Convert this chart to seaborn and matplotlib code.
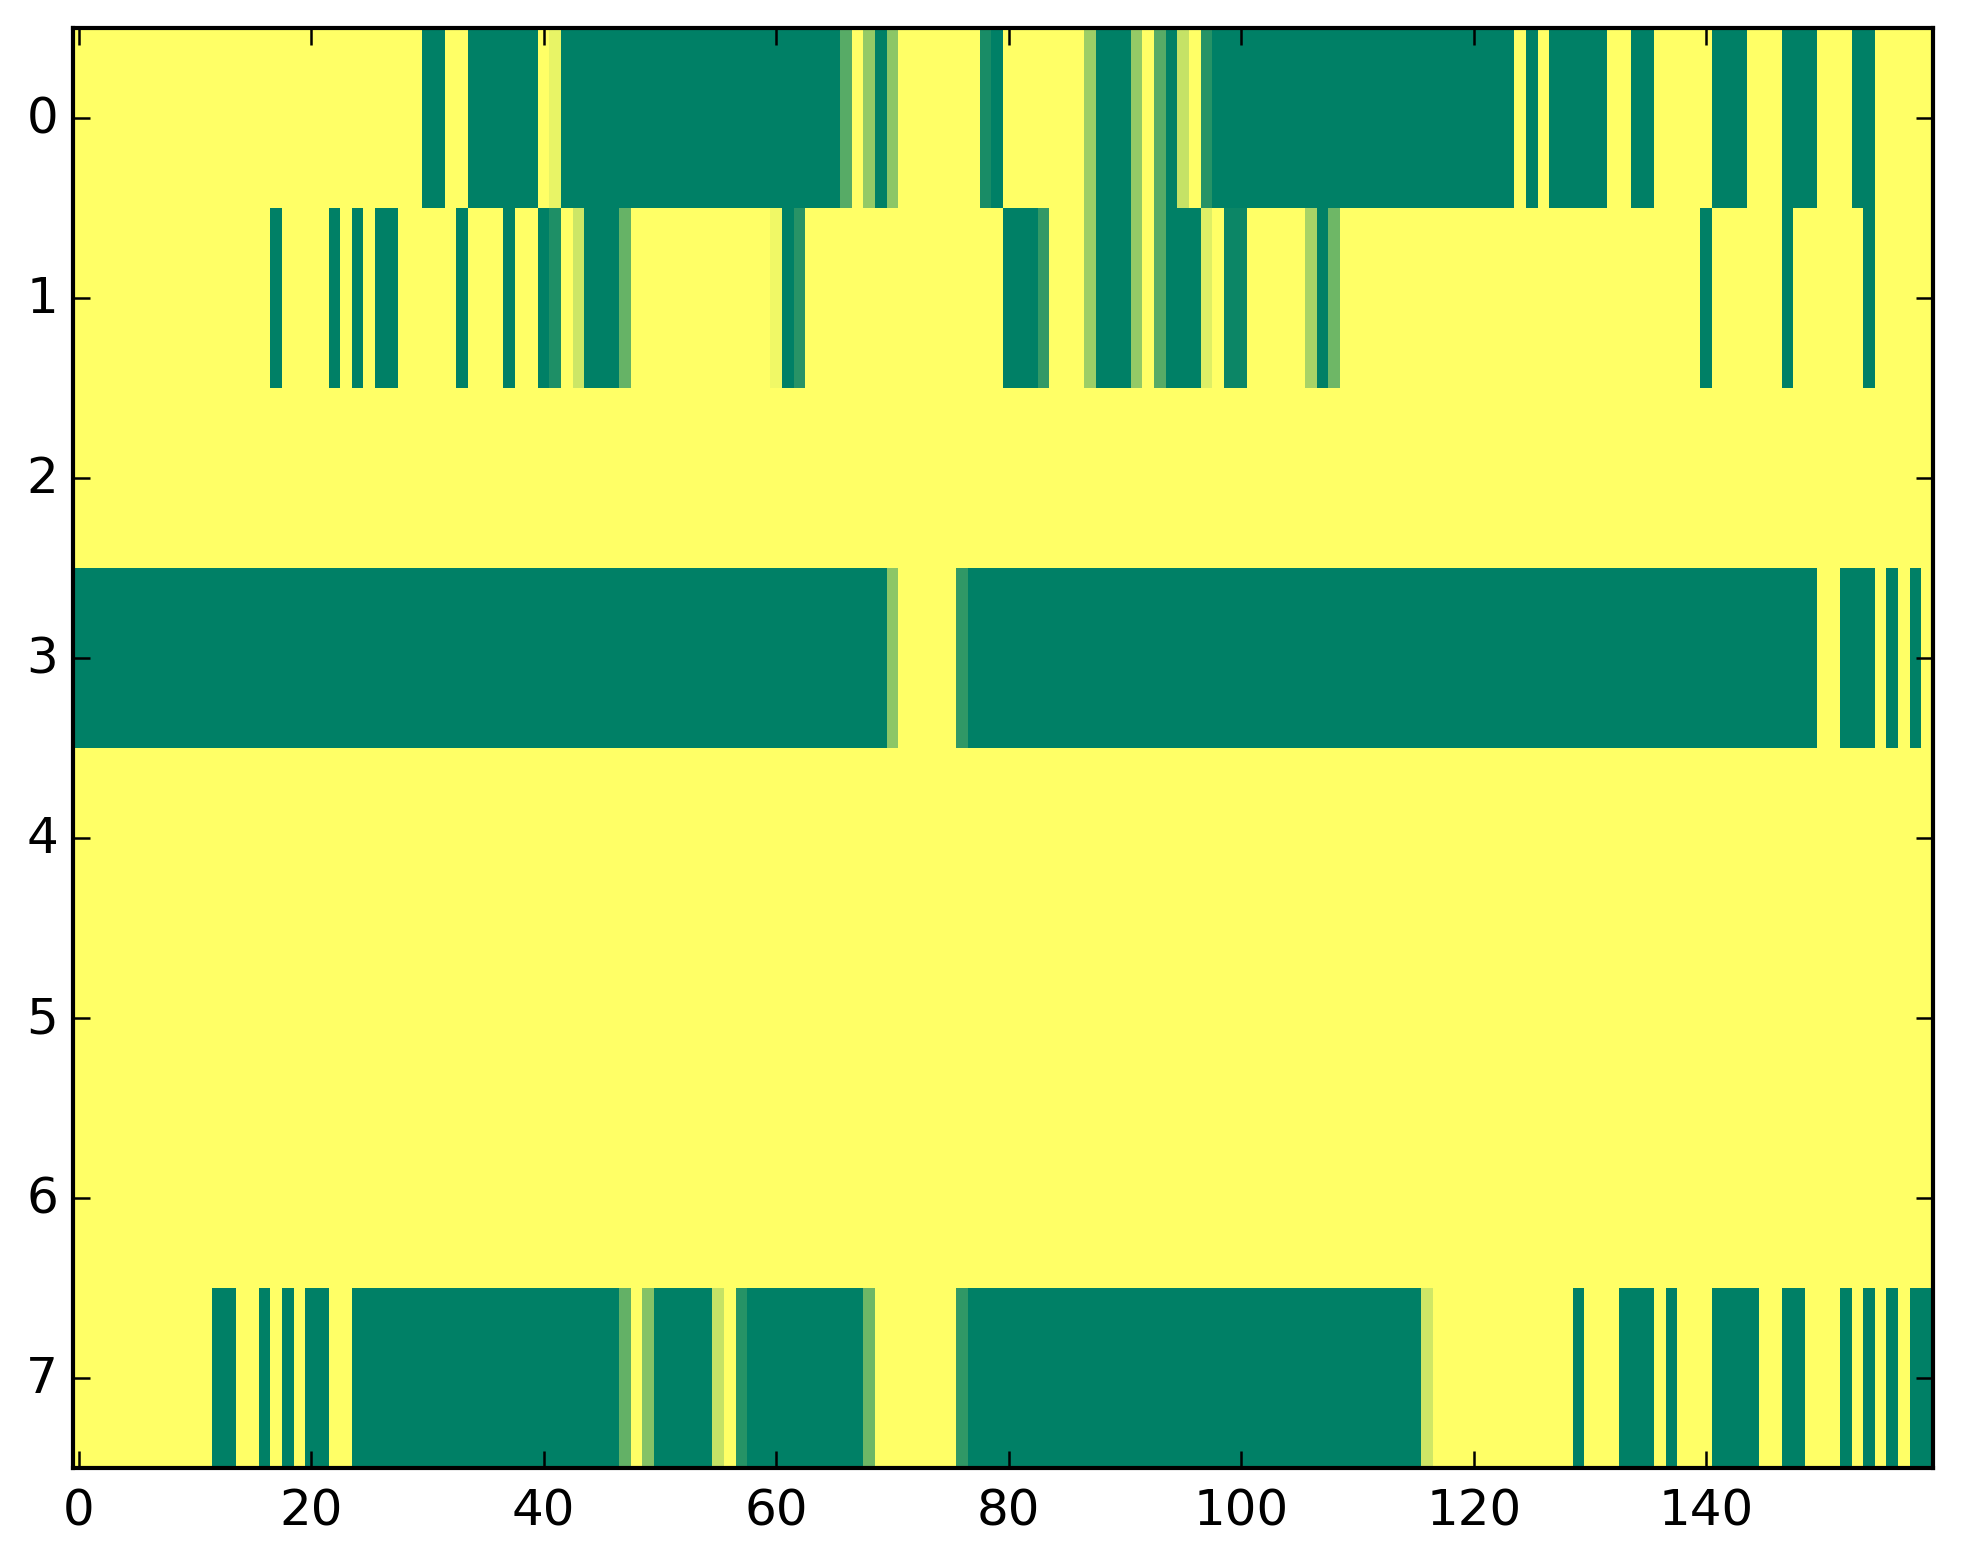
import numpy as np
import pandas as pd
import matplotlib
matplotlib.use("Agg")
import matplotlib.pyplot as plt
import seaborn as sns

# values per row, 160 columns each (1 = dark green, 0 = yellow)
row0 = [0, 0, 0, 0, 0, 0, 0, 0, 0, 0, 0, 0, 0, 0, 0, 0, 0, 0, 0, 0,
        0, 0, 0, 0, 0, 0, 0, 0, 0, 0, 1, 1, 0, 0, 1, 1, 1, 1, 1, 1,
        0, .09, 1, 1, 1, 1, 1, 1, 1, 1, 1, 1, 1, 1, 1, 1, 1, 1, 1, 1,
        1, 1, 1, 1, 1, 1, .66, 0, .42, 1, .45, 0, 0, 0, 0, 0, 0, 0, .9, 1,
        0, 0, 0, 0, 0, 0, 0, .39, 1, 1, 1, .42, 0, .66, 1, .23, 0, .85, 1, 1,
        1, 1, 1, 1, 1, 1, 1, 1, 1, 1, 1, 1, 1, 1, 1, 1, 1, 1, 1, 1,
        1, 1, 1, 1, 0, 1, 0, 1, 1, 1, 1, 1, 0, 0, 1, 1, 0, 0, 0, 0,
        0, 1, 1, 1, 0, 0, 0, 1, 1, 1, 0, 0, 0, 1, 1, 0, 0, 0, 0, 0]

row1 = [0, 0, 0, 0, 0, 0, 0, 0, 0, 0, 0, 0, 0, 0, 0, 0, 0, 1, 0, 0,
        0, 0, 1, 0, 1, 0, 1, 1, 0, 0, 0, 0, 0, 1, 0, 0, 0, 1, 0, 0,
        1, .88, 0, .2, 1, 1, 1, .6, 0, 0, 0, 0, 0, 0, 0, 0, 0, 0, 0, 0,
        .06, 1, .84, 0, 0, 0, 0, 0, 0, 0, 0, 0, 0, 0, 0, 0, 0, 0, 0, 0,
        1, 1, 1, .8, 0, 0, 0, .39, 1, 1, 1, .42, 0, .66, 1, 1, 1, .13, 0, .95,
        .95, 0, 0, 0, 0, 0, .34, 1, .57, 0, 0, 0, 0, 0, 0, 0, 0, 0, 0, 0,
        0, 0, 0, 0, 0, 0, 0, 0, 0, 0, 0, 0, 0, 0, 0, 0, 0, 0, 0, 0,
        1, 0, 0, 0, 0, 0, 0, 1, 0, 0, 0, 0, 0, 0, 1, 0, 0, 0, 0, 0]

row2 = [0, 0, 0, 0, 0, 0, 0, 0, 0, 0, 0, 0, 0, 0, 0, 0, 0, 0, 0, 0,
        0, 0, 0, 0, 0, 0, 0, 0, 0, 0, 0, 0, 0, 0, 0, 0, 0, 0, 0, 0,
        0, 0, 0, 0, 0, 0, 0, 0, 0, 0, 0, 0, 0, 0, 0, 0, 0, 0, 0, 0,
        0, 0, 0, 0, 0, 0, 0, 0, 0, 0, 0, 0, 0, 0, 0, 0, 0, 0, 0, 0,
        0, 0, 0, 0, 0, 0, 0, 0, 0, 0, 0, 0, 0, 0, 0, 0, 0, 0, 0, 0,
        0, 0, 0, 0, 0, 0, 0, 0, 0, 0, 0, 0, 0, 0, 0, 0, 0, 0, 0, 0,
        0, 0, 0, 0, 0, 0, 0, 0, 0, 0, 0, 0, 0, 0, 0, 0, 0, 0, 0, 0,
        0, 0, 0, 0, 0, 0, 0, 0, 0, 0, 0, 0, 0, 0, 0, 0, 0, 0, 0, 0]

row3 = [1, 1, 1, 1, 1, 1, 1, 1, 1, 1, 1, 1, 1, 1, 1, 1, 1, 1, 1, 1,
        1, 1, 1, 1, 1, 1, 1, 1, 1, 1, 1, 1, 1, 1, 1, 1, 1, 1, 1, 1,
        1, 1, 1, 1, 1, 1, 1, 1, 1, 1, 1, 1, 1, 1, 1, 1, 1, 1, 1, 1,
        1, 1, 1, 1, 1, 1, 1, 1, 1, 1, .45, 0, 0, 0, 0, 0, .81, 1, 1, 1,
        1, 1, 1, 1, 1, 1, 1, 1, 1, 1, 1, 1, 1, 1, 1, 1, 1, 1, 1, 1,
        1, 1, 1, 1, 1, 1, 1, 1, 1, 1, 1, 1, 1, 1, 1, 1, 1, 1, 1, 1,
        1, 1, 1, 1, 1, 1, 1, 1, 1, 1, 1, 1, 1, 1, 1, 1, 1, 1, 1, 1,
        1, 1, 1, 1, 1, 1, 1, 1, 1, 1, 0, 0, 1, 1, 1, 0, 1, 0, 1, 0]

row4 = [0, 0, 0, 0, 0, 0, 0, 0, 0, 0, 0, 0, 0, 0, 0, 0, 0, 0, 0, 0,
        0, 0, 0, 0, 0, 0, 0, 0, 0, 0, 0, 0, 0, 0, 0, 0, 0, 0, 0, 0,
        0, 0, 0, 0, 0, 0, 0, 0, 0, 0, 0, 0, 0, 0, 0, 0, 0, 0, 0, 0,
        0, 0, 0, 0, 0, 0, 0, 0, 0, 0, 0, 0, 0, 0, 0, 0, 0, 0, 0, 0,
        0, 0, 0, 0, 0, 0, 0, 0, 0, 0, 0, 0, 0, 0, 0, 0, 0, 0, 0, 0,
        0, 0, 0, 0, 0, 0, 0, 0, 0, 0, 0, 0, 0, 0, 0, 0, 0, 0, 0, 0,
        0, 0, 0, 0, 0, 0, 0, 0, 0, 0, 0, 0, 0, 0, 0, 0, 0, 0, 0, 0,
        0, 0, 0, 0, 0, 0, 0, 0, 0, 0, 0, 0, 0, 0, 0, 0, 0, 0, 0, 0]

row5 = [0, 0, 0, 0, 0, 0, 0, 0, 0, 0, 0, 0, 0, 0, 0, 0, 0, 0, 0, 0,
        0, 0, 0, 0, 0, 0, 0, 0, 0, 0, 0, 0, 0, 0, 0, 0, 0, 0, 0, 0,
        0, 0, 0, 0, 0, 0, 0, 0, 0, 0, 0, 0, 0, 0, 0, 0, 0, 0, 0, 0,
        0, 0, 0, 0, 0, 0, 0, 0, 0, 0, 0, 0, 0, 0, 0, 0, 0, 0, 0, 0,
        0, 0, 0, 0, 0, 0, 0, 0, 0, 0, 0, 0, 0, 0, 0, 0, 0, 0, 0, 0,
        0, 0, 0, 0, 0, 0, 0, 0, 0, 0, 0, 0, 0, 0, 0, 0, 0, 0, 0, 0,
        0, 0, 0, 0, 0, 0, 0, 0, 0, 0, 0, 0, 0, 0, 0, 0, 0, 0, 0, 0,
        0, 0, 0, 0, 0, 0, 0, 0, 0, 0, 0, 0, 0, 0, 0, 0, 0, 0, 0, 0]

row6 = [0, 0, 0, 0, 0, 0, 0, 0, 0, 0, 0, 0, 0, 0, 0, 0, 0, 0, 0, 0,
        0, 0, 0, 0, 0, 0, 0, 0, 0, 0, 0, 0, 0, 0, 0, 0, 0, 0, 0, 0,
        0, 0, 0, 0, 0, 0, 0, 0, 0, 0, 0, 0, 0, 0, 0, 0, 0, 0, 0, 0,
        0, 0, 0, 0, 0, 0, 0, 0, 0, 0, 0, 0, 0, 0, 0, 0, 0, 0, 0, 0,
        0, 0, 0, 0, 0, 0, 0, 0, 0, 0, 0, 0, 0, 0, 0, 0, 0, 0, 0, 0,
        0, 0, 0, 0, 0, 0, 0, 0, 0, 0, 0, 0, 0, 0, 0, 0, 0, 0, 0, 0,
        0, 0, 0, 0, 0, 0, 0, 0, 0, 0, 0, 0, 0, 0, 0, 0, 0, 0, 0, 0,
        0, 0, 0, 0, 0, 0, 0, 0, 0, 0, 0, 0, 0, 0, 0, 0, 0, 0, 0, 0]

row7 = [0, 0, 0, 0, 0, 0, 0, 0, 0, 0, 0, 0, 1, 1, 0, 0, 1, 0, 1, 0,
        1, 1, 0, 0, 1, 1, 1, 1, 1, 1, 1, 1, 1, 1, 1, 1, 1, 1, 1, 1,
        1, 1, 1, 1, 1, 1, 1, .61, 0, .48, 1, 1, 1, 1, 1, .23, 0, .85, 1, 1,
        1, 1, 1, 1, 1, 1, 1, 1, .57, 0, 0, 0, 0, 0, 0, 0, .81, 1, 1, 1,
        1, 1, 1, 1, 1, 1, 1, 1, 1, 1, 1, 1, 1, 1, 1, 1, 1, 1, 1, 1,
        1, 1, 1, 1, 1, 1, 1, 1, 1, 1, 1, 1, 1, 1, 1, 1, .19, 0, 0, 0,
        0, 0, 0, 0, 0, 0, 0, 0, 0, 1, 0, 0, 0, 1, 1, 1, 0, 1, 0, 0,
        0, 1, 1, 1, 1, 0, 0, 1, 1, 0, 0, 0, 1, 0, 1, 0, 1, 0, 1, 1]

x_ticks = [0, 20, 40, 60, 80, 100, 120, 140]
y_ticks = [0, 1, 2, 3, 4, 5, 6, 7]

grid = pd.DataFrame([row0, row1, row2, row3, row4, row5, row6, row7])

fig = plt.figure(figsize=(1963 / 300, 1564 / 300), dpi=300)
ax = fig.add_axes([0.0371, 0.0607, 0.9476, 0.9207])

sns.heatmap(grid, cmap="summer_r", vmin=0, vmax=1, cbar=False, ax=ax)

# plain numeric ticks at cell centres, like imshow
ax.set_xticks(np.array(x_ticks) + 0.5)
ax.set_xticklabels([str(t) for t in x_ticks], rotation=0)
ax.set_yticks(np.array(y_ticks) + 0.5)
ax.set_yticklabels([str(t) for t in y_ticks], rotation=0)
ax.set_xlabel("")
ax.set_ylabel("")

for spine in ax.spines.values():
    spine.set_visible(True)
    spine.set_color("black")
    spine.set_linewidth(1.0)

ax.tick_params(direction="in", top=True, right=True, length=4, width=0.6,
               labelsize=12, colors="black")
ax.tick_params(axis="x", pad=4.5)
ax.tick_params(axis="y", pad=3.5)

fig.savefig("out.png", dpi=300)
